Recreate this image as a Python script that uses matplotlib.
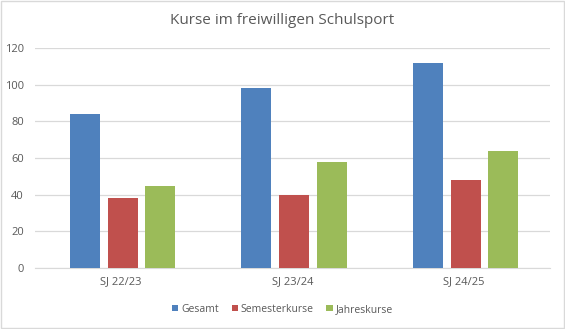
import numpy as np
import matplotlib.pyplot as plt

categories = ["SJ 22/23", "SJ 23/24", "SJ 24/25"]
gesamt = [84, 98, 112]
semester = [38, 40, 48]
jahres = [45, 58, 64]
series_names = ["Gesamt", "Semesterkurse", "Jahreskurse"]
colors = ["#4F81BD", "#C0504D", "#9BBB59"]

plt.rcParams['font.family'] = ['Open Sans', 'DejaVu Sans']

fig = plt.figure(figsize=(5.65, 3.29), dpi=100)
ax = fig.add_axes([0.062, 0.185, 0.911, 0.669])

x = np.arange(len(categories))
w = 0.175
offs = [-0.21, 0.01, 0.23]
for vals, off, c, name in zip([gesamt, semester, jahres], offs, colors, series_names):
    ax.bar(x + off, vals, w, color=c, label=name, zorder=3)

ax.set_xlim(-0.5, 2.5)
ax.set_ylim(0, 120)
ax.set_yticks(range(0, 121, 20))
ax.set_xticks(x)
ax.set_xticklabels(categories)
ax.grid(axis='y', color='#D9D9D9', linewidth=0.9, zorder=0)
for s in ['top', 'right', 'left']:
    ax.spines[s].set_visible(False)
ax.spines['bottom'].set_color('#D9D9D9')
ax.tick_params(axis='both', length=0, labelsize=8, labelcolor='#595959')
ax.tick_params(axis='x', pad=6)
ax.tick_params(axis='y', pad=8)

fig.suptitle("Kurse im freiwilligen Schulsport", y=0.96, fontsize=11, color='#595959')
fig.legend(loc='center', bbox_to_anchor=(0.5, 0.06), ncol=3, frameon=False,
           fontsize=7.5, labelcolor='#595959', handlelength=0.6, handleheight=0.6,
           handletextpad=0.3, columnspacing=1.2)

fig.patches.append(plt.Rectangle((0.002, 0.003), 0.996, 0.994, transform=fig.transFigure,
                                 fill=False, edgecolor='#D9D9D9', linewidth=1))

fig.savefig("out.png", dpi=100)
